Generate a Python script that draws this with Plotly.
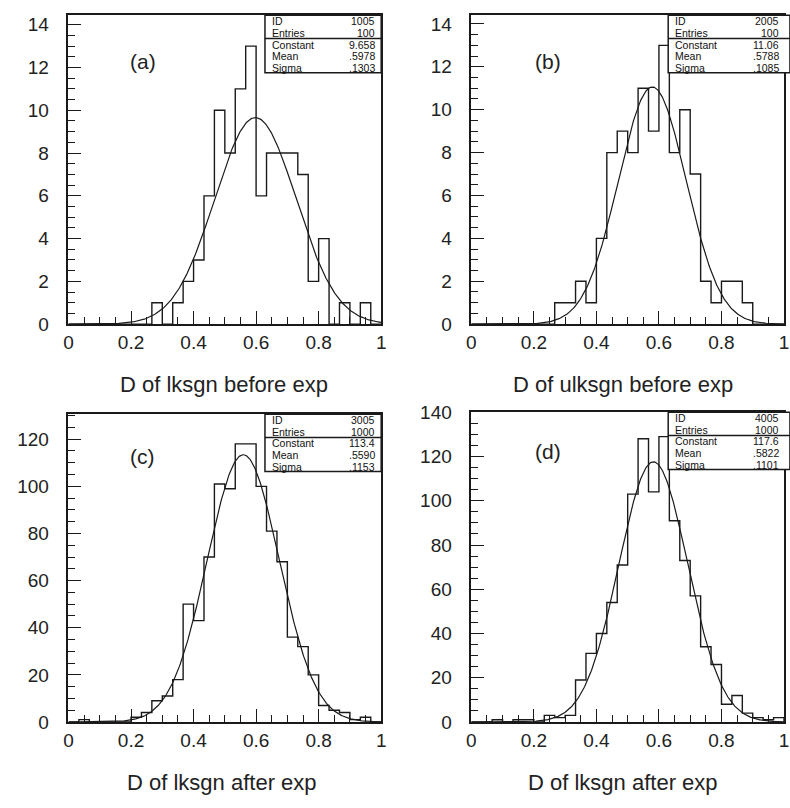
import numpy as np
import plotly.graph_objects as go

W, H = 790, 808
N_BINS = 30
X_MIN, X_MAX = 0.0, 1.0

# ---- data (30 bins over 0..1) ----
counts_a = [0, 0, 0, 0, 0, 0, 0, 0, 1, 0, 1, 2, 3, 6, 10, 8, 11, 13, 6, 8, 8, 8, 7, 2, 4, 0, 1, 0, 1, 0]
counts_b = [0, 0, 0, 0, 0, 0, 0, 0, 1, 1, 2, 1, 4, 8, 9, 8, 11, 9, 13, 8, 10, 7, 2, 1, 2, 2, 1, 0, 0, 0]
counts_c = [0, 1, 0, 0, 0, 0, 2, 4, 9, 11, 18, 50, 43, 70, 101, 99, 118, 118, 100, 81, 68, 36, 32, 20, 7, 5, 4, 1, 2, 0]
counts_d = [0, 0, 1, 0, 1, 1, 0, 3, 2, 3, 19, 31, 40, 54, 71, 103, 128, 104, 129, 91, 73, 57, 34, 26, 8, 12, 4, 2, 1, 2]

ids = ["1005", "2005", "3005", "4005"]
entries = ["100", "100", "1000", "1000"]
fit_constant = [9.658, 11.06, 113.4, 117.6]
fit_mean = [0.5978, 0.5788, 0.5590, 0.5822]
fit_sigma = [0.1303, 0.1085, 0.1153, 0.1101]
const_text = ["9.658", "11.06", "113.4", "117.6"]
mean_text = [".5978", ".5788", ".5590", ".5822"]
sigma_text = [".1303", ".1085", ".1153", ".1101"]
panel_labels = ["(a)", "(b)", "(c)", "(d)"]
x_titles = ["D of lksgn before exp", "D of ulksgn before exp",
            "D of lksgn after exp", "D of lksgn after exp"]
y_max = [14.44, 14.4, 130.6, 140.0]
y_major = [2, 2, 20, 20]
y_minor = [0.5, 0.5, 5, 5]

all_counts = [counts_a, counts_b, counts_c, counts_d]

# ---- layout (pixels) ----
frames = [(64.3, 381.0, 5.5, 322.5), (472.3, 789.0, 5.5, 322.5),
          (64.3, 381.0, 415.0, 731.0), (472.3, 789.0, 413.0, 731.0)]
box_left = [263.3, 671.7, 263.3, 671.7]
box_right = [381.0, 795.0, 381.0, 795.0]
val_right = [377.0, 786.0, 377.0, 786.0]
label_pos = [(140, 53), (550, 53), (139, 458), (550, 453)]
title_pos = [(222, 385), (626, 385), (220, 793), (626, 793)]

FONT = "Liberation Sans"
LINE = "#1a1a1a"

def px(x):
    return x / W

def py(y):
    return 1 - y / H

fig = go.Figure()
shapes = []
annotations = []
edges = np.linspace(X_MIN, X_MAX, N_BINS + 1)
xs_fit = np.linspace(X_MIN, X_MAX, 401)

for i in range(4):
    n = i + 1
    xa = "x" if n == 1 else f"x{n}"
    ya = "y" if n == 1 else f"y{n}"
    c = np.array(all_counts[i], dtype=float)
    step_x = list(edges[:-1]) + [edges[-1], edges[-1]]
    step_y = list(c) + [c[-1], 0.0]
    fig.add_trace(go.Scatter(x=step_x, y=step_y, mode="lines", line_shape="hv",
                             line=dict(color=LINE, width=1.4), xaxis=xa, yaxis=ya,
                             showlegend=False, hoverinfo="skip"))
    yfit = fit_constant[i] * np.exp(-0.5 * ((xs_fit - fit_mean[i]) / fit_sigma[i]) ** 2)
    fig.add_trace(go.Scatter(x=xs_fit, y=yfit, mode="lines",
                             line=dict(color=LINE, width=1.2), xaxis=xa, yaxis=ya,
                             showlegend=False, hoverinfo="skip"))

    l, r, t, b = frames[i]
    axis_common = dict(showgrid=False, zeroline=False, showline=True, linecolor=LINE,
                       linewidth=1.5, mirror=True, ticks="inside", tickcolor=LINE,
                       tickwidth=1.2, ticklen=13,
                       tickfont=dict(family=FONT, size=19, color="#222"))
    fig.layout[f"xaxis{'' if n == 1 else n}"] = dict(
        axis_common, domain=[px(l), px(r)], range=[X_MIN, X_MAX], anchor=ya,
        tick0=0, dtick=0.2, ticklabelstandoff=0,
        minor=dict(ticks="inside", dtick=0.05, tick0=0, ticklen=7,
                   tickcolor=LINE, tickwidth=1.2))
    fig.layout[f"yaxis{'' if n == 1 else n}"] = dict(
        axis_common, domain=[py(b), py(t)], range=[0, y_max[i]], anchor=xa,
        tick0=0, dtick=y_major[i], ticklabelstandoff=14,
        minor=dict(ticks="inside", dtick=y_minor[i], tick0=0, ticklen=7,
                   tickcolor=LINE, tickwidth=1.2))

    # stats box
    bt = t
    bd = t + 23.8
    bb = t + 58.8
    bl, br = box_left[i], box_right[i]
    shapes.append(dict(type="rect", xref="paper", yref="paper", x0=px(bl), x1=px(br),
                       y0=py(bb), y1=py(bt), fillcolor="white",
                       line=dict(color=LINE, width=1.5), layer="above"))
    shapes.append(dict(type="line", xref="paper", yref="paper", x0=px(bl), x1=px(br),
                       y0=py(bd), y1=py(bd), line=dict(color=LINE, width=1.5), layer="above"))
    rows = [("ID", ids[i]), ("Entries", entries[i]), ("Constant", const_text[i]),
            ("Mean", mean_text[i]), ("Sigma", sigma_text[i])]
    row_y = [t + 6.3, t + 18.3, t + 30.0, t + 41.8, t + 53.8]
    for (name, val), yy in zip(rows, row_y):
        annotations.append(dict(x=px(bl + 5), y=py(yy), xref="paper", yref="paper",
                                text=name, showarrow=False, xanchor="left", yanchor="middle",
                                font=dict(family=FONT, size=10.5, color="#111")))
        annotations.append(dict(x=px(val_right[i]), y=py(yy), xref="paper", yref="paper",
                                text=val, showarrow=False, xanchor="right", yanchor="middle",
                                font=dict(family=FONT, size=10.5, color="#111")))
    lx, ly = label_pos[i]
    annotations.append(dict(x=px(lx), y=py(ly), xref="paper", yref="paper",
                            text=panel_labels[i], showarrow=False, xanchor="center",
                            yanchor="middle", font=dict(family=FONT, size=21, color="#222")))
    tx, ty = title_pos[i]
    annotations.append(dict(x=px(tx), y=py(ty), xref="paper", yref="paper",
                            text=x_titles[i], showarrow=False, xanchor="center",
                            yanchor="middle", font=dict(family=FONT, size=22, color="#222")))

fig.update_layout(width=W, height=H, margin=dict(l=0, r=0, t=0, b=0),
                  paper_bgcolor="white", plot_bgcolor="white",
                  shapes=shapes, annotations=annotations)
fig.write_html("out.html")
